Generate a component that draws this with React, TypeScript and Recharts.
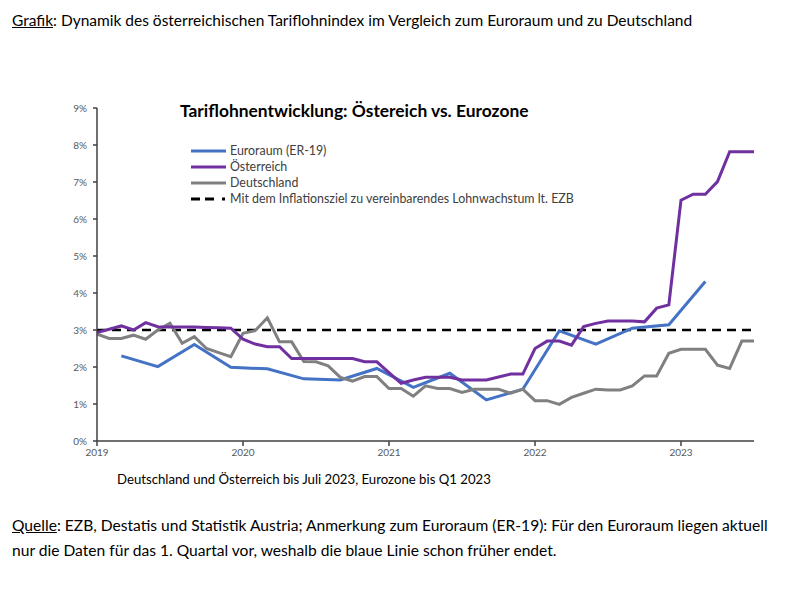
import React from 'react';
import { LineChart, Line, XAxis, YAxis, ReferenceLine } from 'recharts';

// Monthly values Jan 2019 .. Jul 2023 (in %)
const austria = [
  2.93, 3.02, 3.11, 3.0, 3.2, 3.09, 3.08, 3.08, 3.08, 3.07, 3.06, 3.05,
  2.75, 2.62, 2.55, 2.55, 2.23, 2.23, 2.23, 2.23, 2.23, 2.23, 2.14, 2.14,
  1.85, 1.56, 1.65, 1.72, 1.72, 1.72, 1.65, 1.65, 1.65, 1.73, 1.81, 1.81,
  2.5, 2.7, 2.7, 2.59, 3.09, 3.18, 3.24, 3.24, 3.24, 3.22, 3.59, 3.68,
  6.51, 6.67, 6.67, 7.01, 7.82, 7.82, 7.82,
];
const germany = [
  2.89, 2.77, 2.77, 2.86, 2.75, 3.0, 3.18, 2.64, 2.82, 2.5, 2.39, 2.28,
  2.91, 2.98, 3.33, 2.68, 2.68, 2.15, 2.14, 2.03, 1.72, 1.62, 1.74, 1.74,
  1.42, 1.42, 1.21, 1.49, 1.42, 1.42, 1.31, 1.4, 1.4, 1.4, 1.29, 1.4,
  1.09, 1.09, 0.99, 1.18, 1.29, 1.4, 1.38, 1.38, 1.49, 1.76, 1.76, 2.37,
  2.48, 2.48, 2.48, 2.05, 1.96, 2.7, 2.7,
];
// Quarterly (end of quarter) Q1 2019 .. Q1 2023
const euroArea = [2.3, 2.01, 2.61, 1.99, 1.95, 1.68, 1.65, 1.96, 1.45, 1.83, 1.11, 1.4, 2.98, 2.62, 3.05, 3.14, 4.31];

const yearLabels = ['2019', '2020', '2021', '2022', '2023'];
const yTicks = [0, 1, 2, 3, 4, 5, 6, 7, 8, 9];
const targetValue = 3;

const legendItems = [
  { label: 'Euroraum (ER-19)', color: '#4472C4', dashed: false },
  { label: 'Österreich', color: '#7030A0', dashed: false },
  { label: 'Deutschland', color: '#808080', dashed: false },
  { label: 'Mit dem Inflationsziel zu vereinbarendes Lohnwachstum lt. EZB', color: '#000000', dashed: true },
];

const data = austria.map((v, i) => ({
  i,
  at: v,
  de: germany[i],
  ez: i % 3 === 2 && (i - 2) / 3 < euroArea.length ? euroArea[(i - 2) / 3] : null,
}));

const FONT = 'Lato, "Open Sans", sans-serif';

const LegendBlock = () => (
  <div style={{ position: 'absolute', left: 190, top: 143, fontFamily: FONT, fontSize: 12.4, color: '#404040', lineHeight: '16px' }}>
    {legendItems.map((it) => (
      <div key={it.label} style={{ display: 'flex', alignItems: 'center', whiteSpace: 'nowrap' }}>
        <svg width={38} height={8} style={{ marginRight: 2 }}>
          <line x1={1} y1={4} x2={36} y2={4} stroke={it.color} strokeWidth={3}
            strokeDasharray={it.dashed ? '9 5 9 8 3 20' : undefined} />
        </svg>
        <span>{it.label}</span>
      </div>
    ))}
  </div>
);

export default function App() {
  return (
    <div style={{ position: 'absolute', left: 0, top: 0, width: 811, height: 589, background: '#fff', fontFamily: FONT }}>
      <div style={{ position: 'absolute', left: 12, top: 11, fontSize: 15.5, color: '#000', whiteSpace: 'nowrap' }}>
        <span style={{ textDecoration: 'underline' }}>Grafik</span>: Dynamik des österreichischen Tariflohnindex im Vergleich zum Euroraum und zu Deutschland
      </div>
      <div style={{ position: 'absolute', left: 0, top: 0 }}>
        <LineChart width={811} height={589} data={data} margin={{ top: 108, right: 57, bottom: 118, left: 57 }}>
          <XAxis
            dataKey="i"
            type="number"
            domain={[0, 54]}
            ticks={[0, 12, 24, 36, 48]}
            tickFormatter={(v: number) => yearLabels[v / 12]}
            height={30}
            tick={{ fontSize: 10, fill: '#595959', fontFamily: FONT }}
            tickSize={5}
            tickMargin={3}
            axisLine={{ stroke: '#404040', strokeWidth: 1.5 }}
            tickLine={{ stroke: '#404040', strokeWidth: 1.5 }}
          />
          <YAxis
            type="number"
            domain={[0, 9]}
            ticks={yTicks}
            tickFormatter={(v: number) => `${v}%`}
            width={40}
            tick={{ fontSize: 10, fill: '#595959', fontFamily: FONT }}
            tickSize={4}
            tickMargin={6}
            axisLine={{ stroke: '#404040', strokeWidth: 1.5 }}
            tickLine={{ stroke: '#404040', strokeWidth: 1.5 }}
          />
          <ReferenceLine y={targetValue} stroke="#000" strokeWidth={2.5} strokeDasharray="9 6" />
          <Line type="linear" dataKey="ez" stroke="#4472C4" strokeWidth={3} dot={false} connectNulls isAnimationActive={false} />
          <Line type="linear" dataKey="de" stroke="#808080" strokeWidth={3} dot={false} isAnimationActive={false} />
          <Line type="linear" dataKey="at" stroke="#7030A0" strokeWidth={3} dot={false} isAnimationActive={false} />
        </LineChart>
      </div>
      <div style={{ position: 'absolute', left: 180, top: 100, fontSize: 17.4, fontWeight: 700, color: '#000', whiteSpace: 'nowrap' }}>
        Tariflohnentwicklung: Östereich vs. Eurozone
      </div>
      <LegendBlock />
      <div style={{ position: 'absolute', left: 117, top: 471, fontSize: 13.2, color: '#000', whiteSpace: 'nowrap' }}>
        Deutschland und Österreich bis Juli 2023, Eurozone bis Q1 2023
      </div>
      <div style={{ position: 'absolute', left: 12, top: 513, fontSize: 15.6, color: '#000', lineHeight: '25px', whiteSpace: 'nowrap' }}>
        <div><span style={{ textDecoration: 'underline' }}>Quelle</span>: EZB, Destatis und Statistik Austria; Anmerkung zum Euroraum (ER-19): Für den Euroraum liegen aktuell</div>
        <div>nur die Daten für das 1. Quartal vor, weshalb die blaue Linie schon früher endet.</div>
      </div>
    </div>
  );
}
